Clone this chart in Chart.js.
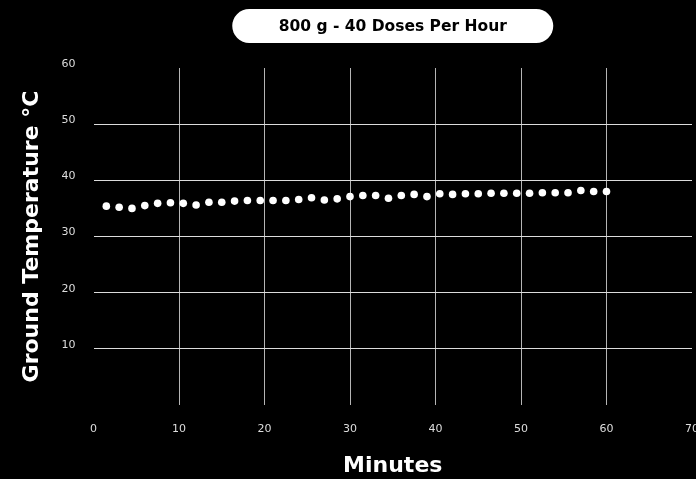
<!DOCTYPE html>
<html>
<head>
<meta charset="utf-8">
<script src="https://cdn.jsdelivr.net/npm/chart.js@4"></script>
<style>
  html, body { margin: 0; padding: 0; background: #000; }
  canvas { display: block; }
</style>
</head>
<body>
<canvas id="scatter" width="696" height="479"></canvas>
<script>
// Daten
const titleText = '800 g - 40 Doses Per Hour';
const minutes = [1.5, 3, 4.5, 6, 7.5, 9, 10.5, 12, 13.5, 15,
  16.5, 18, 19.5, 21, 22.5, 24, 25.5, 27, 28.5, 30,
  31.5, 33, 34.5, 36, 37.5, 39, 40.5, 42, 43.5, 45,
  46.5, 48, 49.5, 51, 52.5, 54, 55.5, 57, 58.5, 60];
const temps = [35.4, 35.2, 35.0, 35.5, 35.9, 36.0, 35.9, 35.6, 36.1, 36.1,
  36.3, 36.4, 36.4, 36.4, 36.4, 36.6, 36.9, 36.5, 36.7, 37.1,
  37.3, 37.3, 36.8, 37.3, 37.5, 37.1, 37.6, 37.5, 37.6, 37.6,
  37.7, 37.7, 37.7, 37.7, 37.8, 37.8, 37.8, 38.2, 38.0, 38.0];

const FONT = "'DejaVu Sans', sans-serif";

// weisse Pille mit Titel oben
const pillTitle = {
  id: 'pillTitle',
  afterDraw(chart) {
    const ctx = chart.ctx;
    const a = chart.chartArea;
    const cx = (a.left + a.right) / 2;
    const w = 321, h = 34, y = 9;
    ctx.save();
    ctx.fillStyle = '#fff';
    ctx.beginPath();
    ctx.roundRect(cx - w / 2, y, w, h, h / 2);
    ctx.fill();
    ctx.fillStyle = '#000';
    ctx.font = 'bold 15.5px ' + FONT;
    ctx.textAlign = 'center';
    ctx.textBaseline = 'middle';
    ctx.fillText(titleText, cx, y + h / 2 + 1);
    ctx.restore();
  }
};

new Chart(document.getElementById('scatter'), {
  type: 'scatter',
  data: {
    datasets: [{
      label: 'Ground Temperature',
      data: minutes.map((m, i) => ({ x: m, y: temps[i] })),
      backgroundColor: '#fff',
      borderWidth: 0,
      pointRadius: 3.8
    }]
  },
  options: {
    responsive: false,
    animation: false,
    layout: { padding: { top: 68, right: 4, left: 0, bottom: 0 } },
    plugins: {
      legend: { display: false },
      tooltip: { enabled: false }
    },
    scales: {
      x: {
        type: 'linear',
        min: 0,
        max: 70,
        afterFit(s) { s.height = 74; s.paddingLeft = 0; s.paddingRight = 0; },
        border: { display: false },
        grid: {
          drawTicks: false,
          color: c => (c.tick && (c.tick.value === 0 || c.tick.value === 70)) ? 'rgba(0,0,0,0)' : '#b5b5b5'
        },
        ticks: {
          stepSize: 10,
          padding: 18,
          color: '#ddd',
          font: { family: FONT, size: 11 }
        },
        title: {
          display: true,
          text: 'Minutes',
          color: '#fff',
          padding: { top: 0, bottom: 0 },
          font: { family: FONT, size: 22, weight: 'bold' }
        }
      },
      y: {
        min: 0,
        max: 60,
        afterFit(s) { s.width = 93.5; },
        border: { display: false },
        grid: {
          drawTicks: false,
          color: c => (c.tick && (c.tick.value === 0 || c.tick.value === 60)) ? 'rgba(0,0,0,0)' : '#dcdcdc'
        },
        ticks: {
          stepSize: 10,
          padding: 18,
          labelOffset: -4,
          color: '#ddd',
          font: { family: FONT, size: 11 },
          callback: v => v === 0 ? '' : v
        },
        title: {
          display: true,
          text: 'Ground Temperature °C',
          color: '#fff',
          align: 'center',
          padding: { top: 19, bottom: 0 },
          font: { family: FONT, size: 22, weight: 'bold' }
        }
      }
    }
  },
  plugins: [pillTitle]
});
</script>
</body>
</html>
